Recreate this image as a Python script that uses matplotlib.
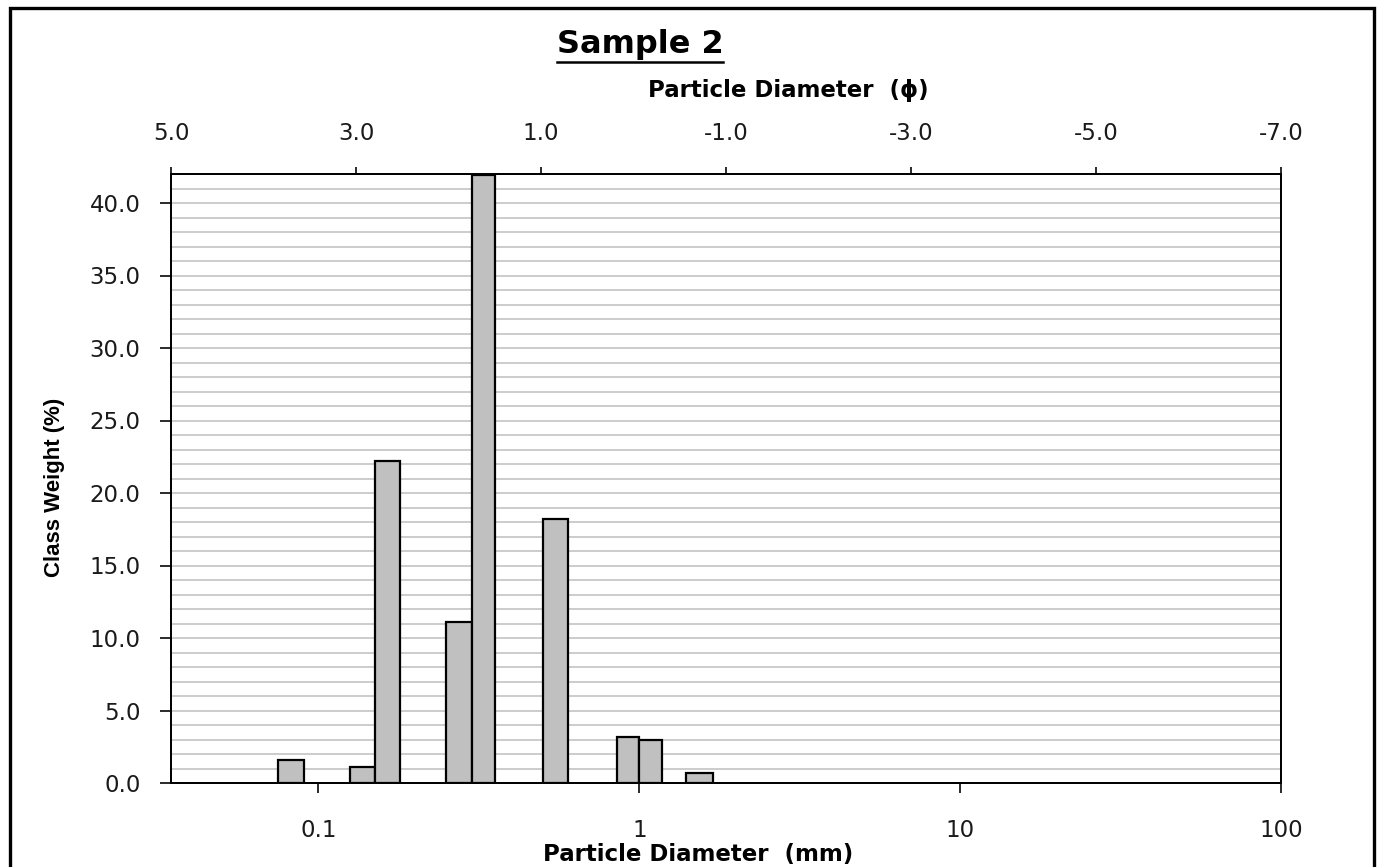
import matplotlib
matplotlib.use('Agg')
import matplotlib.pyplot as plt
from matplotlib.patches import Rectangle
from matplotlib.lines import Line2D
from matplotlib.ticker import FixedLocator, FixedFormatter, MultipleLocator, NullLocator

W, H, DPI = 1380, 867, 100

# ---- text ----
title = "Sample 2"
x_label_bottom = "Particle Diameter  (mm)"
x_label_top = "Particle Diameter  (\u03d5)"
y_label = "Class Weight (%)"

# ---- data: sieve class bounds (mm) and class weight (%) ----
class_lower_mm = [0.075, 0.125, 0.150, 0.250, 0.300, 0.500, 0.850, 1.000, 1.400]
class_upper_mm = [0.090, 0.150, 0.180, 0.300, 0.355, 0.600, 1.000, 1.180, 1.700]
class_weight = [1.6, 1.1, 22.2, 11.1, 41.9, 18.2, 3.2, 3.0, 0.7]

# ---- ticks ----
mm_ticks = [0.1, 1, 10, 100]
mm_tick_labels = ["0.1", "1", "10", "100"]
phi_ticks = [5.0, 3.0, 1.0, -1.0, -3.0, -5.0, -7.0]
phi_tick_labels = ["5.0", "3.0", "1.0", "-1.0", "-3.0", "-5.0", "-7.0"]
y_ticks = [0, 5, 10, 15, 20, 25, 30, 35, 40]
y_tick_labels = ["0.0", "5.0", "10.0", "15.0", "20.0", "25.0", "30.0", "35.0", "40.0"]

TICK_FONT = ['DejaVu Sans']
LABEL_FONT = ['DejaVu Sans']
TICK_COLOR = '#1a1a1a'

fig = plt.figure(figsize=(W / DPI, H / DPI), dpi=DPI)
fig.patch.set_facecolor('white')

def fx(px):
    return px / W

def fy(py):
    return 1 - py / H

L, R, T, B = 171, 1281, 174, 783
ax = fig.add_axes([fx(L), fy(B), (R - L) / W, (B - T) / H])
ax.set_xscale('log')
ax.set_xlim(0.0347, 100)
ax.set_ylim(0, 42)

widths = [u - l for l, u in zip(class_lower_mm, class_upper_mm)]
ax.bar(class_lower_mm, class_weight, width=widths, align='edge',
       color='#c0c0c0', edgecolor='black', linewidth=1.6, zorder=3)

# y axis
ax.yaxis.set_major_locator(FixedLocator(y_ticks))
ax.yaxis.set_major_formatter(FixedFormatter(y_tick_labels))
ax.yaxis.set_minor_locator(MultipleLocator(1))
ax.grid(axis='y', which='both', color='#c8c8c8', linewidth=1.3, zorder=0)
ax.set_axisbelow(True)
ax.tick_params(axis='y', which='major', direction='out', length=8, width=1.3,
               pad=14, labelsize=16.5, colors=TICK_COLOR)
ax.tick_params(axis='y', which='minor', length=0)

# bottom x axis
ax.xaxis.set_major_locator(FixedLocator(mm_ticks))
ax.xaxis.set_major_formatter(FixedFormatter(mm_tick_labels))
ax.xaxis.set_minor_locator(NullLocator())
ax.tick_params(axis='x', which='major', direction='out', length=7, width=1.3,
               pad=19, labelsize=16.5, colors=TICK_COLOR)
for lab in ax.get_xticklabels() + ax.get_yticklabels():
    lab.set_family(TICK_FONT)

for s in ax.spines.values():
    s.set_linewidth(1.3)
    s.set_color('black')

# top phi axis
ax2 = ax.twiny()
ax2.set_xlim(5, -7)
ax2.xaxis.set_major_locator(FixedLocator(phi_ticks))
ax2.xaxis.set_major_formatter(FixedFormatter(phi_tick_labels))
ax2.tick_params(axis='x', which='major', direction='out', length=5, width=1.3,
                pad=16, labelsize=16.5, colors=TICK_COLOR)
for lab in ax2.get_xticklabels():
    lab.set_family(TICK_FONT)
for s in ax2.spines.values():
    s.set_linewidth(1.3)

# labels
fig.text(fx(698), fy(854), x_label_bottom, ha='center', va='center',
         fontsize=16.5, fontweight='bold', family=LABEL_FONT)
fig.text(fx(788), fy(90), x_label_top, ha='center', va='center',
         fontsize=16.5, fontweight='bold', family=LABEL_FONT)
fig.text(fx(55), fy(487), y_label, ha='center', va='center', rotation=90,
         fontsize=16, fontweight='bold', family=['Liberation Sans', 'DejaVu Sans'])

t = fig.text(fx(640), fy(45), title, ha='center', va='center',
             fontsize=23, fontweight='bold', family=LABEL_FONT)

# underline the title
fig.canvas.draw()
bb = t.get_window_extent(fig.canvas.get_renderer())
uy = fy(62)
fig.add_artist(Line2D([bb.x0 / W, bb.x1 / W], [uy, uy], transform=fig.transFigure,
                      color='black', linewidth=1.8))

# chart-area border
fig.add_artist(Rectangle((fx(10), -0.02), fx(1374) - fx(10), fy(8) + 0.02,
                         transform=fig.transFigure, fill=False,
                         edgecolor='black', linewidth=2.4))

fig.savefig('out.png', dpi=DPI, facecolor='white')
